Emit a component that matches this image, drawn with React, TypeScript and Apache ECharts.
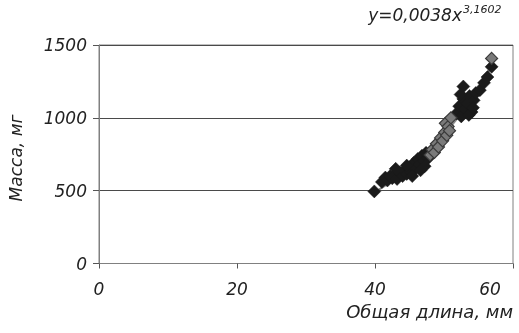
import React, { useEffect, useRef } from "react";
import * as echarts from "echarts";

const blackPoints: [number, number][] = [
  [39.9, 495], [41.0, 560], [41.5, 590], [41.8, 570], [42.2, 600], [42.5, 585],
  [43.0, 612], [43.2, 580], [43.6, 625], [44.0, 600], [44.3, 640], [44.6, 615],
  [45.0, 660], [45.2, 632], [45.6, 690], [45.9, 652], [46.2, 718], [46.5, 680],
  [46.8, 740], [47.1, 702], [47.4, 760], [47.7, 722], [43.0, 650], [44.6, 672],
  [45.4, 600], [46.6, 640], [47.2, 668],
  [51.8, 1030], [52.2, 1080], [52.5, 1010], [52.8, 1130], [52.8, 1215], [53.1, 1060],
  [53.4, 1100], [53.7, 1150], [54.0, 1040], [54.3, 1120], [54.6, 1170], [53.6, 1020],
  [52.4, 1160], [54.2, 1070],
  [55.2, 1190], [55.8, 1240], [56.3, 1280], [56.9, 1350],
];
const grayPoints: [number, number][] = [
  [48.0, 745], [48.3, 782], [48.6, 762], [48.9, 822], [49.2, 800], [49.5, 862],
  [49.8, 842], [50.1, 900], [50.4, 880], [50.2, 962], [50.6, 940], [51.0, 1000],
  [50.8, 912], [56.9, 1408],
];
const trendPoints: [number, number][] = [
  [40, 490], [44, 620], [48, 790], [52, 1000], [56, 1280], [57.2, 1390],
];
const xTicks = [0, 20, 40, 60];
const yTicks = [0, 500, 1000, 1500];

const FONT = "DejaVu Sans";
const FS = 17;

export default function App() {
  const ref = useRef<HTMLDivElement>(null);
  useEffect(() => {
    if (!ref.current) return;
    const chart = echarts.init(ref.current, null, { renderer: "svg" });
    chart.setOption({
      animation: false,
      grid: {
        left: 99, right: 6, top: 45, bottom: 69.5,
        show: true, borderColor: "#808080", borderWidth: 1,
      },
      xAxis: {
        type: "value", min: xTicks[0], max: xTicks[xTicks.length - 1], interval: 20,
        axisLine: { show: true, lineStyle: { color: "#808080", width: 1 } },
        axisTick: { show: true, inside: false, length: 5, lineStyle: { color: "#555" } },
        splitLine: { show: false },
        axisLabel: {
          margin: 17, color: "#222", fontFamily: FONT, fontStyle: "italic", fontSize: FS,
          formatter: (v: number) => (v === 60 ? "{last|60}" : "{n|" + v + "}"),
          rich: {
            n: { fontFamily: FONT, fontStyle: "italic", fontSize: FS, color: "#222" },
            last: { fontFamily: FONT, fontStyle: "italic", fontSize: FS, color: "#222", padding: [0, 46, 0, 0] },
          },
        },
      },
      yAxis: {
        type: "value", min: yTicks[0], max: yTicks[yTicks.length - 1], interval: 500,
        axisLine: { show: true, lineStyle: { color: "#808080", width: 1 } },
        axisTick: { show: true, inside: false, length: 6, lineStyle: { color: "#555" } },
        splitLine: { show: true, lineStyle: { color: "#4a4a4a", width: 1 } },
        axisLabel: {
          margin: 12, color: "#222", fontFamily: FONT, fontStyle: "italic", fontSize: FS,
          formatter: (v: number) => String(v),
        },
      },
      series: [
        {
          type: "line", data: trendPoints, showSymbol: false, smooth: true,
          lineStyle: { color: "#8a8a8a", width: 2 }, z: 1,
        },
        {
          type: "scatter", data: blackPoints, symbol: "diamond", symbolSize: 13,
          itemStyle: { color: "#1a1a1a", opacity: 1, borderColor: "#1a1a1a", borderWidth: 0.5 }, z: 2,
        },
        {
          type: "scatter", data: grayPoints, symbol: "diamond", symbolSize: 12,
          itemStyle: { color: "#7a7a7a", opacity: 1, borderColor: "#3a3a3a", borderWidth: 1.2 }, z: 3,
        },
      ],
      graphic: [
        {
          type: "text", x: 462, y: 15,
          style: {
            text: "y=0,0038x", fontFamily: FONT, fontStyle: "italic", fontSize: FS,
            fill: "#222", align: "right", verticalAlign: "middle",
          },
        },
        {
          type: "text", x: 463, y: 9,
          style: {
            text: "3,1602", fontFamily: FONT, fontStyle: "italic", fontSize: 11,
            fill: "#222", align: "left", verticalAlign: "middle",
          },
        },
        {
          type: "text", x: 16, y: 158, rotation: Math.PI / 2,
          style: {
            text: "Масса, мг", fontFamily: FONT, fontStyle: "italic", fontSize: FS,
            fill: "#222", align: "center", verticalAlign: "middle",
          },
        },
        {
          type: "text", x: 513, y: 311,
          style: {
            text: "Общая длина, мм", fontFamily: FONT, fontStyle: "italic", fontSize: 18,
            fill: "#222", align: "right", verticalAlign: "middle",
          },
        },
      ],
    });
    return () => chart.dispose();
  }, []);
  return <div ref={ref} style={{ width: 519, height: 333, position: "fixed", left: 0, top: 0 }} />;
}
